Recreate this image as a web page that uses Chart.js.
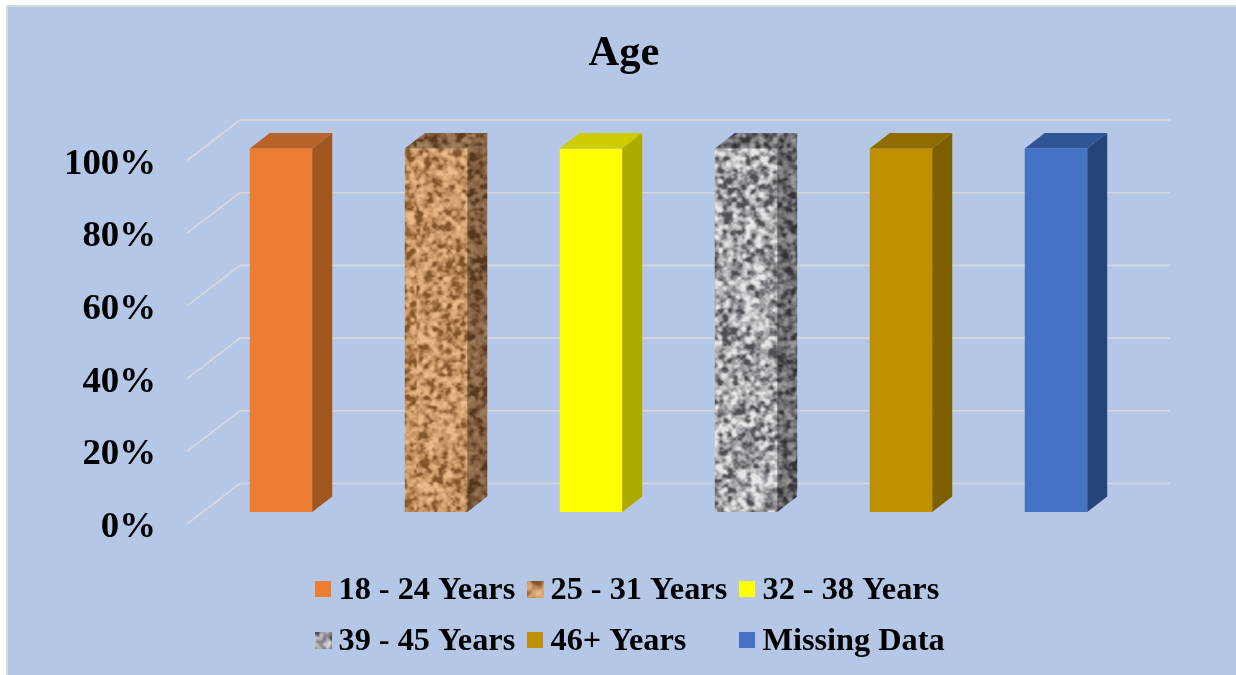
<!DOCTYPE html>
<html>
<head>
<meta charset="utf-8">
<title>Age</title>
<script src="https://cdn.jsdelivr.net/npm/chart.js@4"></script>
<style>
  html, body { margin: 0; padding: 0; background: #fff; overflow: hidden; }
  canvas { display: block; }
</style>
</head>
<body>
<canvas id="chart" width="1236" height="675"></canvas>
<script>
// Chart content
const chartTitle = 'Age';
const categories = ['18 - 24 Years', '25 - 31 Years', '32 - 38 Years', '39 - 45 Years', '46+ Years', 'Missing Data'];
const shares = [100, 100, 100, 100, 100, 100];
const tickValues = [0, 20, 40, 60, 80, 100];

// Face colours per bar; a null colour means the face uses a grain texture
const frontColors = ['#ED7D31', null, '#FFFF00', null, '#BF9000', '#4472C4'];
const topColors = ['#B9622A', null, '#CCCC00', null, '#8F6C00', '#2F5597'];
const sideColors = ['#A0561F', null, '#ABAB00', null, '#7F6000', '#264478'];
const grainRamps = [
  null,
  [[130, 84, 42], [200, 148, 100], [234, 186, 136]],
  null,
  [[78, 78, 84], [165, 165, 170], [230, 230, 230]],
  null,
  null
];

const FONT = '"Liberation Serif", "Times New Roman", serif';
const DEPTH_X = 20, DEPTH_Y = 15.5;        // bar depth
const WALL_X = 53, WALL_Y = 40.5;          // front edge to back wall
const BAR_SHIFT_X = 16.5, BAR_SHIFT_Y = 12; // bars stand part way back on the floor
const WALL_COLOR = '#D6D8DC';

// Deterministic value noise for the stone-like bar grain
function hash(x, y, s) {
  const n = Math.sin(x * 127.1 + y * 311.7 + s * 74.7) * 43758.5453;
  return n - Math.floor(n);
}
function noise(x, y, s) {
  const xi = Math.floor(x), yi = Math.floor(y);
  const fx = x - xi, fy = y - yi;
  const u = fx * fx * (3 - 2 * fx), v = fy * fy * (3 - 2 * fy);
  const a = hash(xi, yi, s), b = hash(xi + 1, yi, s);
  const c = hash(xi, yi + 1, s), d = hash(xi + 1, yi + 1, s);
  return (a + (b - a) * u) * (1 - v) + (c + (d - c) * u) * v;
}
function grainCanvas(ramp, w, h, cell, seed) {
  const cv = document.createElement('canvas');
  cv.width = w; cv.height = h;
  const g = cv.getContext('2d');
  const img = g.createImageData(w, h);
  for (let y = 0; y < h; y++) {
    for (let x = 0; x < w; x++) {
      // a straight and a rotated layer hide the lattice of the noise
      const straight = noise(x / cell, y / cell, seed);
      const turned = noise((x * 0.8 + y * 0.6) / cell, (y * 0.8 - x * 0.6) / cell, seed + 5);
      const fine = noise(x / (cell * 0.5), y / (cell * 0.5), seed + 9);
      let t = 0.4 * straight + 0.4 * turned + 0.2 * fine;
      t = Math.min(1, Math.max(0, (t - 0.5) * 2.2 + 0.5));
      const lo = t < 0.5 ? ramp[0] : ramp[1];
      const hi = t < 0.5 ? ramp[1] : ramp[2];
      const k = t < 0.5 ? t * 2 : (t - 0.5) * 2;
      const i = (y * w + x) * 4;
      for (let c = 0; c < 3; c++) img.data[i + c] = lo[c] + (hi[c] - lo[c]) * k;
      img.data[i + 3] = 255;
    }
  }
  g.putImageData(img, 0, 0);
  return cv;
}

const ctx0 = document.getElementById('chart').getContext('2d');
const grains = grainRamps.map((r, i) => r ? ctx0.createPattern(grainCanvas(r, 400, 700, 4.6, i + 1), 'repeat') : null);
const swatches = grainRamps.map((r, i) => r ? grainCanvas(r, 17, 17, 6, i + 21) : null);
const frontFill = frontColors.map((c, i) => c || grains[i]);

// Background panel with its thin outline at the top and left
const panel = {
  id: 'panel',
  beforeDraw(chart) {
    const c = chart.ctx;
    c.save();
    c.fillStyle = '#FFFFFF';
    c.fillRect(0, 0, chart.width, chart.height);
    c.fillStyle = '#D9D9D9';
    c.fillRect(6, 5, chart.width - 6, chart.height - 5);
    c.fillStyle = '#B4C7E7';
    c.fillRect(8, 7, chart.width - 8, chart.height - 7);
    c.restore();
  }
};

// Tick labels are wider than the narrow axis box, so it is opened to the canvas edge
const wideAxis = {
  id: 'wideAxis',
  afterLayout(chart) {
    chart.scales.y.left = 0;
  }
};

// Back wall and side wall gridlines at each tick value
const walls = {
  id: 'walls',
  beforeDatasetsDraw(chart) {
    const c = chart.ctx, y = chart.scales.y, area = chart.chartArea;
    c.save();
    c.strokeStyle = WALL_COLOR;
    c.lineWidth = 1.6;
    c.lineJoin = 'round';
    tickValues.forEach(v => {
      const py = y.getPixelForValue(v);
      c.beginPath();
      c.moveTo(area.left, py);
      c.lineTo(area.left + WALL_X, py - WALL_Y);
      c.lineTo(area.right + WALL_X, py - WALL_Y);
      c.stroke();
    });
    c.restore();
  }
};

// Extrudes each bar: shifts it back on the floor, then adds top and side faces
const extrude = {
  id: 'extrude',
  beforeDatasetDraw(chart) {
    chart.ctx.save();
    chart.ctx.translate(BAR_SHIFT_X, -BAR_SHIFT_Y);
  },
  afterDatasetDraw(chart, args) {
    const c = chart.ctx;
    args.meta.data.forEach((bar, i) => {
      const { x, y, base, width } = bar.getProps(['x', 'y', 'base', 'width'], true);
      const l = x - width / 2, r = x + width / 2;
      const face = (pts, color, shade) => {
        c.beginPath();
        pts.forEach((p, k) => k ? c.lineTo(p[0], p[1]) : c.moveTo(p[0], p[1]));
        c.closePath();
        c.fillStyle = color || grains[i];
        c.fill();
        if (!color) {
          c.fillStyle = shade;
          c.fill();
        }
      };
      face([[l, y], [l + DEPTH_X, y - DEPTH_Y], [r + DEPTH_X, y - DEPTH_Y], [r, y]], topColors[i], 'rgba(0,0,0,0.3)');
      face([[r, y], [r + DEPTH_X, y - DEPTH_Y], [r + DEPTH_X, base - DEPTH_Y], [r, base]], sideColors[i], 'rgba(0,0,0,0.34)');
    });
    c.restore();
  }
};

// Legend laid out on three fixed columns and two rows
const legendColumns = [315, 527, 739];
const legendRows = [589, 640];
const columnLegend = {
  id: 'columnLegend',
  afterDraw(chart) {
    const c = chart.ctx;
    c.save();
    c.font = 'bold 32.3px ' + FONT;
    c.textBaseline = 'middle';
    c.fillStyle = '#000000';
    categories.forEach((name, i) => {
      const x = legendColumns[i % 3], y = legendRows[Math.floor(i / 3)];
      if (swatches[i]) c.drawImage(swatches[i], x, y - 8);
      else {
        c.save();
        c.fillStyle = frontColors[i];
        c.fillRect(x, y - 8, 16, 16);
        c.restore();
      }
      c.fillText(name, x + 23.5, y + 2);
    });
    c.restore();
  }
};

new Chart(ctx0, {
  type: 'bar',
  data: {
    labels: categories,
    datasets: [{
      data: shares,
      backgroundColor: frontFill,
      borderWidth: 0,
      barPercentage: 1,
      categoryPercentage: 0.403,
      clip: false
    }]
  },
  plugins: [panel, wideAxis, walls, extrude, columnLegend],
  options: {
    responsive: false,
    animation: false,
    layout: { padding: { left: 131, right: 119, top: 0, bottom: 151 } },
    plugins: {
      legend: { display: false },
      tooltip: { enabled: false },
      title: {
        display: true,
        text: chartTitle,
        color: '#000000',
        font: { family: FONT, size: 42.5, weight: 'bold' },
        padding: { top: 28.5, bottom: 81 }
      }
    },
    scales: {
      x: {
        display: false
      },
      y: {
        min: 0,
        max: 100,
        afterFit(scale) { scale.width = 56; },
        afterBuildTicks(scale) { scale.ticks = tickValues.map(value => ({ value })); },
        border: { display: false },
        grid: { display: false, drawTicks: false },
        ticks: {
          color: '#000000',
          padding: 31,
          labelOffset: 3.5,
          font: { family: FONT, size: 36.8, weight: 'bold' },
          callback: v => v + '%'
        }
      }
    }
  }
});
</script>
</body>
</html>
